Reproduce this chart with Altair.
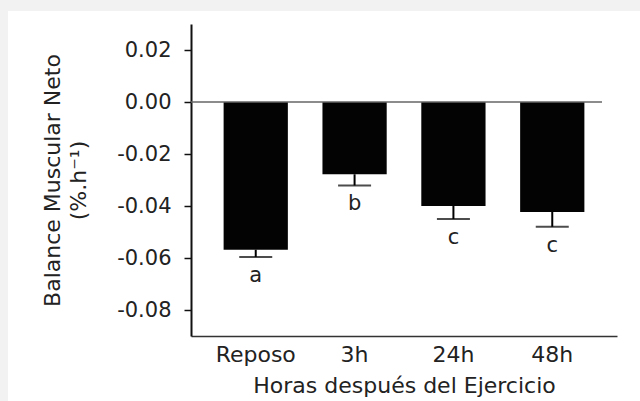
import altair as alt
import pandas as pd

categories = ["Reposo", "3h", "24h", "48h"]
values = [-0.0568, -0.0278, -0.0400, -0.0423]
errors = [0.0028, 0.0043, 0.0050, 0.0057]
letters = ["a", "b", "c", "c"]
y_ticks = [-0.08, -0.07, -0.06, -0.05, -0.04, -0.03, -0.02, -0.01, 0.0, 0.01, 0.02, 0.03]
y_domain = [-0.09, 0.03]

df = pd.DataFrame({
    "cat": categories,
    "value": values,
    "err": errors,
    "letter": letters,
})
df["low"] = df["value"] - df["err"]

FONT = "DejaVu Sans"
W, H = 426, 312
PAD = {"left": 191, "top": 24, "right": 640 - 191 - W, "bottom": 401 - 24 - H}

even_test = "abs(round(datum.value*100)) % 2 == 0"

x_enc = alt.X(
    "cat:N",
    sort=categories,
    scale=alt.Scale(paddingInner=0.35, paddingOuter=0.33),
    axis=alt.Axis(
        title="Horas después del Ejercicio",
        labelAngle=0,
        ticks=False,
        tickSize=0,
        labelPadding=8,
        titlePadding=10,
        labelFontSize=22,
        titleFontSize=22,
        domainColor="#333333",
        domainWidth=1.5,
    ),
)

y_scale = alt.Scale(domain=y_domain, nice=False, zero=False)
y_axis = alt.Axis(
    title=["Balance Muscular Neto", "(%.h⁻¹)"],
    values=y_ticks,
    labelExpr=f"{even_test} ? replace(format(datum.value, '.2f'), '\u2212', '-') : ''",
    tickSize={"condition": {"test": even_test, "value": 7}, "value": 5},
    tickColor="#111111",
    tickWidth=1.5,
    labelPadding=13,
    labelFontSize=21,
    titleFontSize=22,
    titleLineHeight=26,
    titlePadding=26,
    domainColor="#111111",
    domainWidth=2,
    grid=False,
    labelOverlap=False,
    labelFlush=False,
)

base = alt.Chart(df)

bars = base.mark_bar(color="#030303").encode(
    x=x_enc,
    y=alt.Y("value:Q", scale=y_scale, axis=y_axis),
    y2=alt.datum(0),
)

zero_line = alt.Chart(pd.DataFrame({"z": [0.0]})).mark_rule(
    color="#666666", strokeWidth=1.5
).encode(
    y="z:Q",
    x=alt.value(0),
    x2=alt.value(W - 15),
)

stems = base.mark_rule(color="#000000", strokeWidth=2).encode(
    x=alt.X("cat:N", sort=categories),
    y="value:Q",
    y2="low:Q",
)

caps = base.mark_tick(color="#000000", thickness=2, size=33).encode(
    x=alt.X("cat:N", sort=categories),
    y="low:Q",
)

labels = base.mark_text(
    font=FONT, fontSize=21, color="#222222", baseline="middle", dy=19
).encode(
    x=alt.X("cat:N", sort=categories),
    y="low:Q",
    text="letter:N",
)

band = pd.DataFrame({"k": [0]})
top_band = alt.Chart(band).mark_rect(color="#f2f2f2").encode(
    x=alt.value(-PAD["left"]), x2=alt.value(640 - PAD["left"]),
    y=alt.value(-PAD["top"]), y2=alt.value(11 - PAD["top"]),
)
left_band = alt.Chart(band).mark_rect(color="#f2f2f2").encode(
    x=alt.value(-PAD["left"]), x2=alt.value(8 - PAD["left"]),
    y=alt.value(-PAD["top"]), y2=alt.value(401 - PAD["top"]),
)

chart = alt.layer(
    top_band, left_band, bars, zero_line, stems, caps, labels
).properties(
    width=W,
    height=H,
    padding=PAD,
    autosize=alt.AutoSizeParams(type="none"),
    background="white",
).configure_view(
    stroke=None,
).configure_axis(
    labelFont=FONT,
    titleFont=FONT,
    labelColor="#222222",
    titleColor="#222222",
    titleFontWeight="normal",
)

chart.save("out.html", embed_options={"renderer": "svg", "actions": False})
